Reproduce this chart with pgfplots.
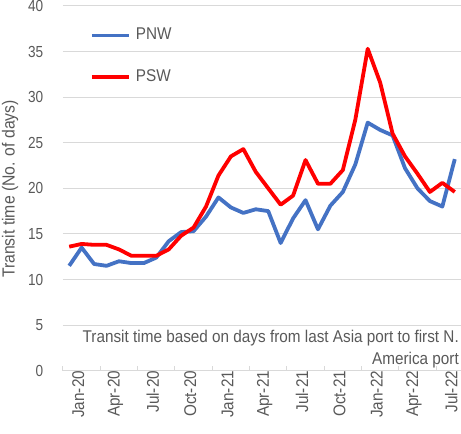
\documentclass[border=0pt]{standalone}
\usepackage{pgfplots}
\pgfplotsset{compat=1.18}
\usepackage{fontspec}
\setmainfont{Liberation Sans}[FakeStretch=0.9]
\newfontfamily\numfont{Liberation Sans}[FakeStretch=0.85]
\definecolor{pnw}{HTML}{4472C4}
\definecolor{psw}{HTML}{FF0000}
\definecolor{txt}{HTML}{595959}
\definecolor{grd}{HTML}{D9D9D9}
\pgfplotstableread{
i PNW PSW
0 11.5 13.6
1 13.5 13.9
2 11.7 13.8
3 11.5 13.8
4 12.0 13.3
5 11.8 12.6
6 11.8 12.6
7 12.4 12.6
8 14.2 13.3
9 15.2 14.8
10 15.3 15.7
11 16.9 18.0
12 19.0 21.4
13 17.9 23.5
14 17.3 24.3
15 17.7 21.8
16 17.5 20.0
17 14.0 18.2
18 16.7 19.2
19 18.7 23.1
20 15.5 20.5
21 18.1 20.5
22 19.6 22.0
23 22.6 27.5
24 27.2 35.3
25 26.4 31.6
26 25.8 26.0
27 22.2 23.5
28 20.0 21.6
29 18.6 19.6
30 18.0 20.6
31 23.2 19.6
}\datatable
\begin{document}
\fontsize{17}{20}\selectfont
\begin{tikzpicture}
\begin{axis}[
  at={(0,0)}, anchor=south west,
  scale only axis, width=398pt, height=364.8pt,
  xmin=-0.5, xmax=31.5, ymin=0, ymax=40,
  ytick={0,5,...,40},
  xtick={0,3,...,30},
  xticklabels={Jan-20,Apr-20,Jul-20,Oct-20,Jan-21,Apr-21,Jul-21,Oct-21,Jan-22,Apr-22,Jul-22},
  extra x ticks={-0.5,2.5,5.5,8.5,11.5,14.5,17.5,20.5,23.5,26.5,29.5},
  extra x tick labels={},
  extra x tick style={major tick length=4.5pt, tick style={grd, line width=1pt}, grid=none},
  major tick length=0pt,
  axis x line*=bottom, axis y line*=left,
  y axis line style={draw=none},
  x axis line style={grd, line width=1pt},
  ytick style={draw=none},
  ymajorgrids, grid style={grd, line width=1pt},
  /pgf/number format/assume math mode=true,
  tick label style={text=txt},
  yticklabel style={anchor=east, inner sep=0pt, xshift=-19.5pt, font=\numfont\fontsize{16}{18}\selectfont},
  xticklabel style={rotate=90, anchor=east, inner sep=0pt, yshift=-9pt, font=\fontsize{17}{20}\selectfont},
  ylabel={Transit time (No. of days)},
  ylabel style={at={(axis description cs:-0.133,0.498)}, anchor=center, font=\fontsize{17.5}{20}\selectfont, text=txt},
  legend style={draw=none, fill=none, at={(axis description cs:0.068,0.9386)}, anchor=north west, inner sep=0pt, outer sep=0pt, font=\fontsize{17}{20}\selectfont, text=txt, row sep=27pt, nodes={inner sep=0pt}, /tikz/every odd column/.append style={column sep=5pt}},
  legend cell align=left,
  legend image code/.code={\draw[#1, line width=3.8pt] (0pt,0pt) -- (37pt,0pt);},
]
\addplot[pnw, line width=3.8pt, line join=round, no markers] table[x=i, y=PNW] {\datatable};
\addplot[psw, line width=3.8pt, line join=round, no markers] table[x=i, y=PSW] {\datatable};
\legend{PNW,PSW}
\node[anchor=north east, align=right, inner sep=0pt, font=\fontsize{17}{21.7}\selectfont, text=txt] at (rel axis cs:0.995,0.111) {Transit time based on days from last Asia port to first N.\\America port};
\end{axis}
\pgfresetboundingbox
\useasboundingbox (-63pt,-63.3pt) rectangle (398pt,370.7pt);
\end{tikzpicture}
\end{document}
